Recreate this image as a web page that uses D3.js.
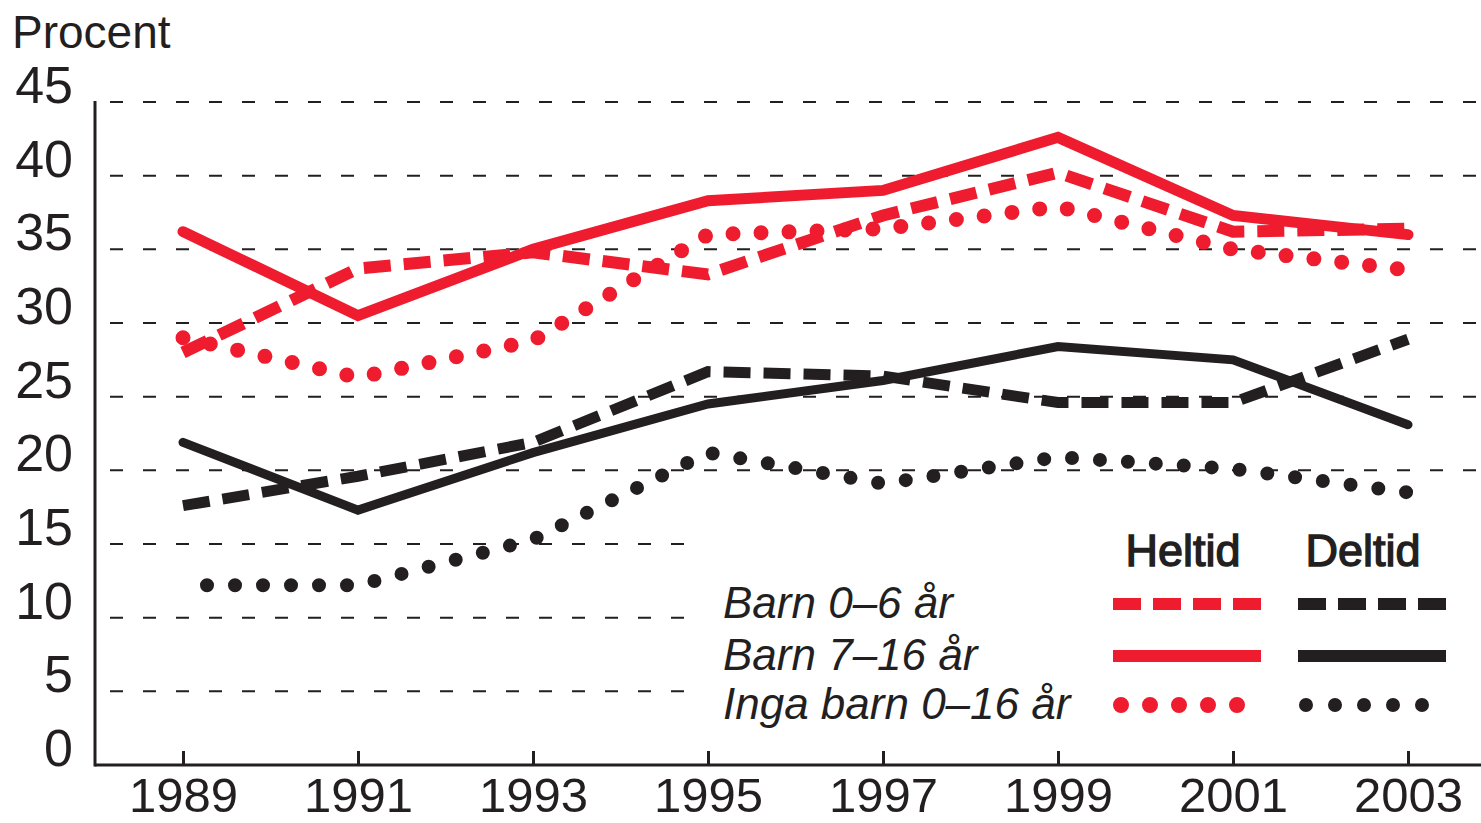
<!DOCTYPE html>
<html>
<head>
<meta charset="utf-8">
<script src="https://cdn.jsdelivr.net/npm/d3@7"></script>
<style>
  body { margin: 0; background: #fff; }
  text { font-family: "Liberation Sans", Arial, Helvetica, sans-serif; fill: #231f20; }
</style>
</head>
<body>
<script>
// data
var years = [1989, 1991, 1993, 1995, 1997, 1999, 2001, 2003];
var yTicks = [0, 5, 10, 15, 20, 25, 30, 35, 40, 45];

var heltid0_6   = [28.0, 33.7, 34.8, 33.3, 37.3, 40.2, 36.2, 36.4];
var heltid7_16  = [36.2, 30.5, 35.0, 38.3, 39.0, 42.6, 37.3, 36.0];
var heltidInga  = [29.0, 26.3, 28.8, 36.0, 36.4, 37.9, 35.0, 33.6];
var deltid0_6   = [17.6, 19.6, 21.9, 26.7, 26.4, 24.6, 24.6, 28.9];
var deltid7_16  = [21.9, 17.3, 21.2, 24.5, 26.1, 28.4, 27.5, 23.1];
var deltidInga  = [12.2, 12.2, 15.3, 21.2, 19.1, 20.9, 20.1, 18.5];

var groupLabels = ["Barn 0–6 år", "Barn 7–16 år", "Inga barn 0–16 år"];
var typeLabels = ["Heltid", "Deltid"];

var RED = "#ee1c2e", BLACK = "#231f20";

// line styles per age group
var styles = [
  { dash: "27 13", cap: "butt" },
  { dash: null, cap: "round" },
  { dash: "0 28", cap: "round" }
];

var series = [
  { values: deltidInga, color: BLACK, style: 2, width: 14, offset: 4 },
  { values: deltid0_6, color: BLACK, style: 0, width: 11 },
  { values: deltid7_16, color: BLACK, style: 1, width: 9 },
  { values: heltidInga, color: RED, style: 2, width: 15 },
  { values: heltid0_6, color: RED, style: 0, width: 12 },
  { values: heltid7_16, color: RED, style: 1, width: 11 }
];

window.addEventListener('load', function () {
  var W = 1481, H = 823;
  var svg = d3.select('body').append('svg')
    .attr("width", W)
    .attr("height", H);

  var x = d3.scaleLinear().domain([1989, 2003]).range([183, 1408]);
  var y = d3.scaleLinear().domain([0, 45]).range([765, 102]);
  var axisLeft = 95, axisRight = 1481;

  // gridlines
  svg.append('g').selectAll('line')
    .data(yTicks.filter(function(d){ return d > 0; }))
    .enter().append('line')
    .attr('x1', axisLeft)
    .attr('x2', axisRight)
    .attr('y1', function(d){ return y(d); })
    .attr('y2', function(d){ return y(d); })
    .attr('stroke', BLACK)
    .attr('stroke-width', 2)
    .attr('stroke-dasharray', '13 20')
    .attr('stroke-dashoffset', 18);

  // y labels
  svg.append('g').selectAll('text')
    .data(yTicks)
    .enter().append('text')
    .attr('x', 73)
    .attr('y', function(d){ return y(d) + 1; })
    .attr('text-anchor', 'end')
    .style('font-size', '52px')
    .text(function(d){ return d; });

  svg.append('text')
    .attr('x', 12)
    .attr('y', 48)
    .style('font-size', '46px')
    .text('Procent');

  // x axis
  var xAxis = d3.axisBottom(x)
    .tickValues(years)
    .tickFormat(d3.format('d'))
    .tickSizeInner(-14)
    .tickSizeOuter(0)
    .tickPadding(12);
  var gx = svg.append('g')
    .attr('transform', 'translate(0,' + y(0) + ')')
    .call(xAxis);
  gx.select('.domain').remove();
  gx.selectAll('.tick line').attr('stroke', BLACK).attr('stroke-width', 3);
  gx.selectAll('.tick text')
    .attr('fill', BLACK)
    .style('font-size', '49px')
    .style('font-family', '"Liberation Sans", Arial, Helvetica, sans-serif')
    .attr('dy', '0.71em');

  svg.append('line')
    .attr('x1', axisLeft).attr('x2', axisRight)
    .attr('y1', y(0)).attr('y2', y(0))
    .attr('stroke', BLACK).attr('stroke-width', 3);
  svg.append('line')
    .attr('x1', axisLeft).attr('x2', axisLeft)
    .attr('y1', y(45) - 1).attr('y2', y(0) + 1.5)
    .attr('stroke', BLACK).attr('stroke-width', 3);

  // legend background hides gridlines
  svg.append('rect')
    .attr('x', 688).attr('y', 522)
    .attr('width', W - 688).attr('height', 215)
    .attr('fill', '#fff');

  // lines
  var line = d3.line()
    .x(function(d, i){ return x(years[i]); })
    .y(function(d){ return y(d); });

  svg.append('g').selectAll('path')
    .data(series)
    .enter().append('path')
    .attr('d', function(d){ return line(d.values); })
    .attr('fill', 'none')
    .attr('stroke', function(d){ return d.color; })
    .attr('stroke-width', function(d){ return d.width; })
    .attr('stroke-linejoin', 'miter')
    .attr('stroke-linecap', function(d){ return styles[d.style].cap; })
    .attr('stroke-dasharray', function(d){ return styles[d.style].dash; })
    .attr('stroke-dashoffset', function(d){ return d.offset || 0; });

  // legend
  var leg = svg.append('g');
  var colX = [1113, 1298];
  var colW = 148;
  var headX = [1183, 1363];
  leg.selectAll('text.head')
    .data(typeLabels)
    .enter().append('text')
    .attr('class', 'head')
    .attr('x', function(d, i){ return headX[i]; })
    .attr('y', 566)
    .attr('text-anchor', 'middle')
    .style('font-size', '45px')
    .style('stroke', BLACK)
    .style('stroke-width', 1.4)
    .text(function(d){ return d; });

  var rowY = [604, 656, 705];
  leg.selectAll('text.lab')
    .data(groupLabels)
    .enter().append('text')
    .attr('class', 'lab')
    .attr('x', 723)
    .attr('y', function(d, i){ return rowY[i] + 14; })
    .style('font-size', '44px')
    .style('font-style', 'italic')
    .text(function(d){ return d; });

  var swatches = [];
  groupLabels.forEach(function(g, r){
    [RED, BLACK].forEach(function(c, k){
      swatches.push({ row: r, col: k, color: c });
    });
  });
  var swDash = ["28 12", null, "0 29"];
  leg.selectAll('line.sw')
    .data(swatches)
    .enter().append('line')
    .attr('class', 'sw')
    .attr('x1', function(d){ return colX[d.col] + (d.row === 2 ? 8 : 0); })
    .attr('x2', function(d){ return colX[d.col] + (d.row === 2 ? 125 : colW); })
    .attr('y1', function(d){ return rowY[d.row]; })
    .attr('y2', function(d){ return rowY[d.row]; })
    .attr('stroke', function(d){ return d.color; })
    .attr('stroke-width', function(d){ return d.row === 2 ? (d.col === 0 ? 16 : 14) : 12; })
    .attr('stroke-linecap', function(d){ return d.row === 2 ? 'round' : 'butt'; })
    .attr('stroke-dasharray', function(d){ return swDash[d.row]; });
});
</script>
</body>
</html>
